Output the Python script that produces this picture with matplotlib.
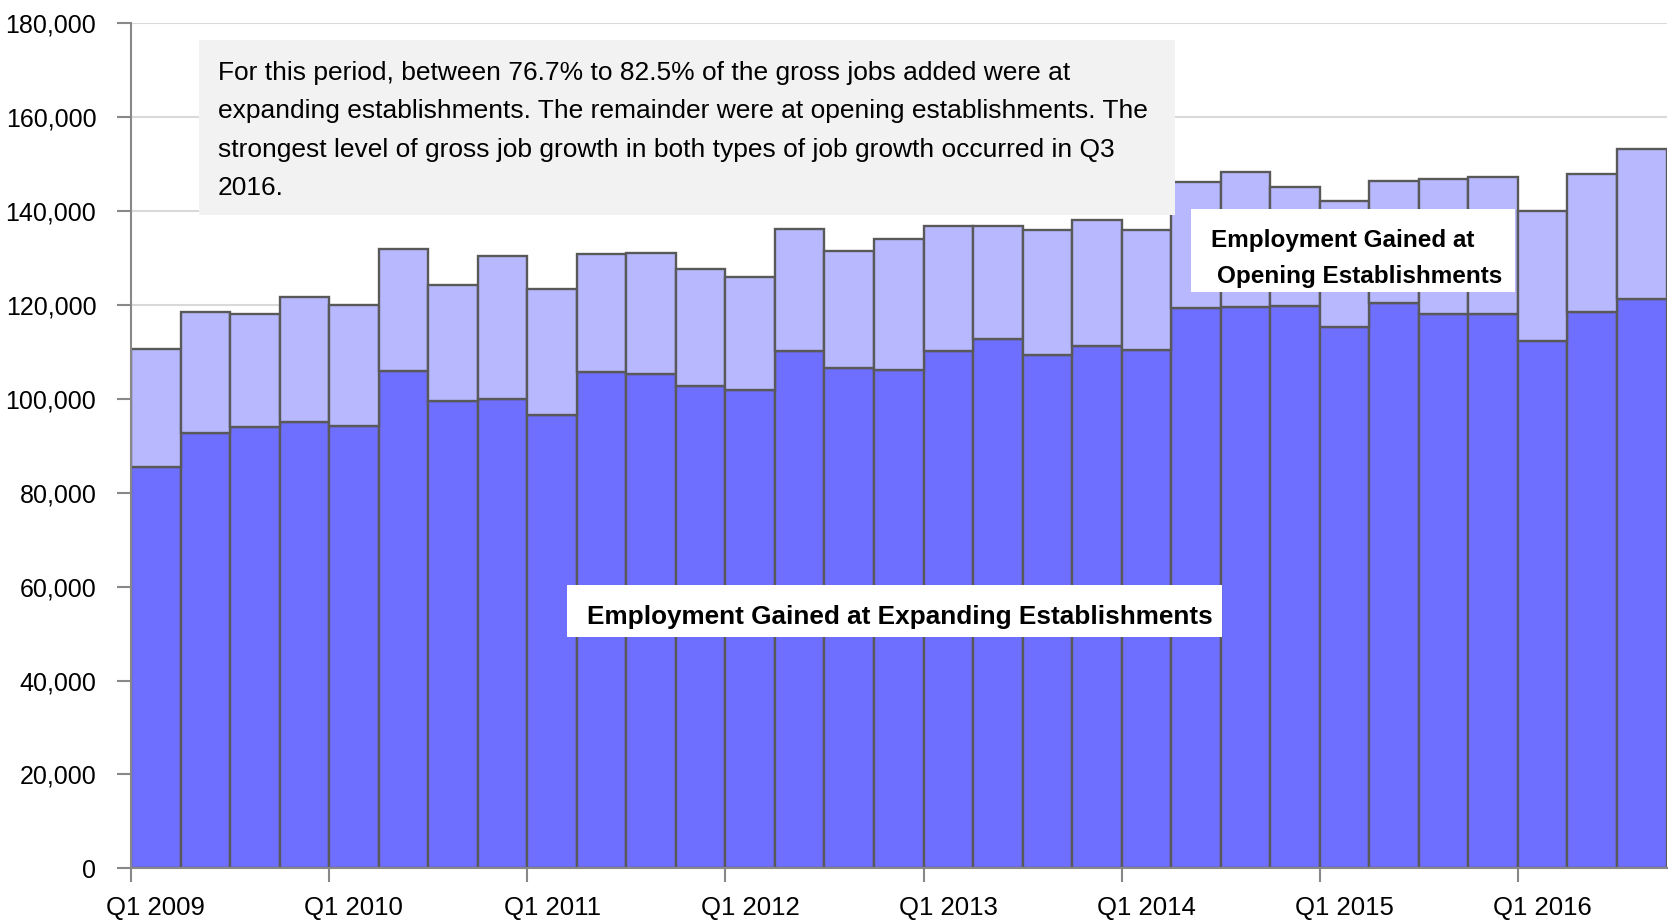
# %%
import matplotlib.pyplot as plt
from matplotlib.patches import Rectangle
from matplotlib.ticker import FuncFormatter
import numpy as np

# %%
quarters = ['Q1 2009', 'Q2 2009', 'Q3 2009', 'Q4 2009',
            'Q1 2010', 'Q2 2010', 'Q3 2010', 'Q4 2010',
            'Q1 2011', 'Q2 2011', 'Q3 2011', 'Q4 2011',
            'Q1 2012', 'Q2 2012', 'Q3 2012', 'Q4 2012',
            'Q1 2013', 'Q2 2013', 'Q3 2013', 'Q4 2013',
            'Q1 2014', 'Q2 2014', 'Q3 2014', 'Q4 2014',
            'Q1 2015', 'Q2 2015', 'Q3 2015', 'Q4 2015',
            'Q1 2016', 'Q2 2016', 'Q3 2016']

# jobs gained at expanding establishments
expanding = [85400, 92700, 94100, 95000, 94300, 105900, 99600, 100000,
             96500, 105700, 105400, 102700, 101800, 110100, 106500, 106100,
             110300, 112700, 109300, 111200, 110400, 119400, 119500, 119700,
             115200, 120500, 118000, 118100, 112300, 118400, 121300]

# total gross jobs gained (expanding + opening)
total = [110600, 118400, 118000, 121700, 120000, 132000, 124300, 130500,
         123500, 130900, 131100, 127700, 126000, 136200, 131500, 134100,
         136800, 136900, 136000, 138100, 136000, 146200, 148400, 145200,
         142200, 146400, 146800, 147300, 140000, 148000, 153200]

opening = [t - e for t, e in zip(total, expanding)]

note_lines = ["For this period, between 76.7% to 82.5% of the gross jobs added were at",
              "expanding establishments. The remainder were at opening establishments. The",
              "strongest level of gross job growth in both types of job growth occurred in Q3",
              "2016."]

# %%
plt.rcParams['font.family'] = ['Liberation Sans', 'DejaVu Sans']

W, H = 1671, 923
fig = plt.figure(figsize=(W / 100, H / 100), dpi=100)
ax = fig.add_axes([131 / W, 1 - 868.3 / H, (1666.5 - 131) / W, (868.3 - 23.3) / H])

def fx(x):
    return x / W

def fy(y):
    return 1 - y / H

x = np.arange(len(quarters))
edge = '#595959'
ax.bar(x, expanding, width=1.0, color='#6E6EFF', edgecolor=edge, linewidth=1.7, zorder=2)
ax.bar(x, opening, bottom=expanding, width=1.0, color='#B8B8FF', edgecolor=edge, linewidth=1.7, zorder=2)

ax.set_xlim(-0.5, len(quarters) - 0.5)
ax.set_ylim(0, 180000)
ax.set_yticks(np.arange(0, 180001, 20000))
ax.yaxis.set_major_formatter(FuncFormatter(lambda v, p: f'{int(v):,}'))
ax.grid(axis='y', color='#D9D9D9', linewidth=1.5, zorder=0)
ax.set_axisbelow(True)

# ticks at left edge of each Q1 bar, labels centred on the bar
ax.set_xticks(x[::4] - 0.5)
ax.set_xticklabels([])
ax.set_xticks(x[::4], minor=True)
ax.set_xticklabels([quarters[i] for i in x[::4]], minor=True)
ax.tick_params(axis='x', which='minor', length=0, pad=20, labelsize=18.5)
ax.tick_params(axis='x', which='major', length=10, width=1.5, color='#888888')
ax.tick_params(axis='y', length=10, width=1.5, color='#888888', pad=15, labelsize=18)

for s in ['top', 'right']:
    ax.spines[s].set_visible(False)
for s in ['left', 'bottom']:
    ax.spines[s].set_color('#888888')
    ax.spines[s].set_linewidth(1.5)
    ax.spines[s].set_zorder(3)

# note box
fig.add_artist(Rectangle((fx(199), fy(215)), fx(1175 - 199), (215 - 40) / H,
                         transform=fig.transFigure, facecolor='#F2F2F2', edgecolor='none', zorder=5))
for i, line in enumerate(note_lines):
    fig.text(fx(218), fy(80 + 38.4 * i), line, ha='left', va='baseline', fontsize=19, zorder=6)

# series labels
fig.add_artist(Rectangle((fx(567), fy(637)), fx(1222 - 567), (637 - 585) / H,
                         transform=fig.transFigure, facecolor='white', edgecolor='none', zorder=5))
fig.text(fx(587), fy(624), 'Employment Gained at Expanding Establishments', ha='left', va='baseline',
         fontsize=18.8, fontweight='bold', zorder=6)

fig.add_artist(Rectangle((fx(1191), fy(292)), fx(1515 - 1191), (292 - 209) / H,
                         transform=fig.transFigure, facecolor='white', edgecolor='none', zorder=5))
fig.text(fx(1211), fy(247), 'Employment Gained at', ha='left', va='baseline',
         fontsize=17.5, fontweight='bold', zorder=6)
fig.text(fx(1217), fy(283), 'Opening Establishments', ha='left', va='baseline',
         fontsize=17.5, fontweight='bold', zorder=6)

plt.savefig('out.png', dpi=100)
